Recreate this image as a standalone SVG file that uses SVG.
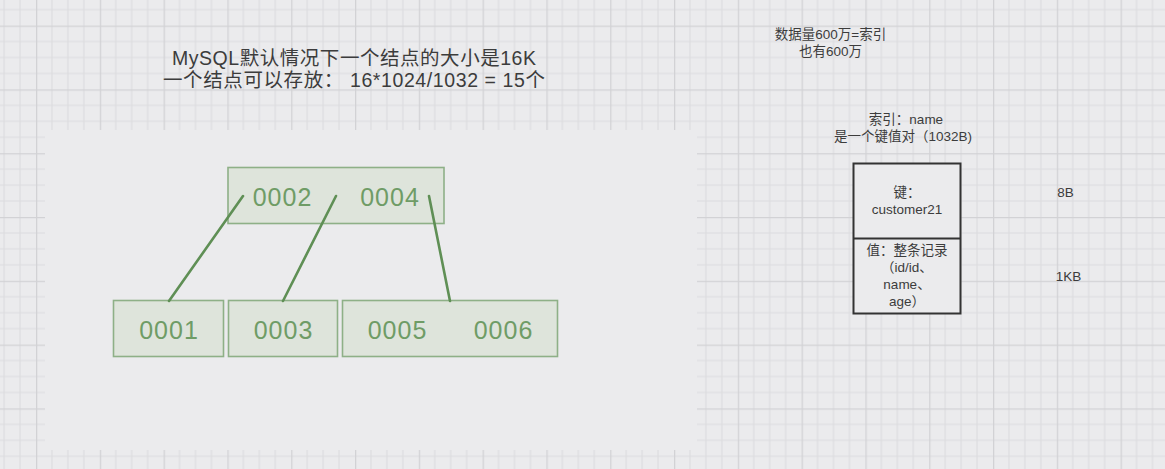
<svg xmlns="http://www.w3.org/2000/svg" width="1165" height="469" viewBox="0 0 1165 469">
<defs>
<pattern id="grid" patternUnits="userSpaceOnUse" x="36" y="25.6" width="63.8" height="63.8">
<path d="M15.95 0V63.8M31.9 0V63.8M47.85 0V63.8M0 15.95H63.8M0 31.9H63.8M0 47.85H63.8" stroke="#dcdcdf" stroke-width="1.2" fill="none"/>
<path d="M0.5 0V63.8M0 0.5H63.8" stroke="#d2d2d5" stroke-width="1.6" fill="none"/>
</pattern>
<style>
.t{font-family:"Liberation Sans","Noto Sans CJK SC",sans-serif;fill:#3c3c3c;text-anchor:middle}
.title{font-size:19.5px}
.s{font-size:13.5px}
.node rect{fill:#dee4db;stroke:#8eb087;stroke-width:1.6}
.node text{font-family:"Liberation Sans",sans-serif;font-size:25px;fill:#6f9c66;text-anchor:middle;letter-spacing:1px}
.edge{stroke:#5f8f55;stroke-width:2.6;stroke-linecap:round}
.box{fill:#ebebed;stroke:#333;stroke-width:2}
</style>
</defs>
<rect width="1165" height="469" fill="#ebebed"/>
<rect width="1165" height="469" fill="url(#grid)"/>
<rect x="45" y="130" width="652" height="320" fill="#ebebed"/>

<g id="title">
<text class="t title" x="354" y="65" textLength="364">MySQL默认情况下一个结点的大小是16K</text>
<text class="t title" x="354" y="87" textLength="382">一个结点可以存放：  16*1024/1032 = 15个</text>
</g>

<g id="root" class="node">
<rect x="228" y="167.5" width="216" height="56"/>
<text x="282.5" y="206">0002</text>
<text x="390" y="206">0004</text>
</g>
<g id="leaf1" class="node">
<rect x="113.5" y="300.5" width="110" height="56"/>
<text x="169" y="339">0001</text>
</g>
<g id="leaf2" class="node">
<rect x="228.5" y="300.5" width="109" height="56"/>
<text x="283.5" y="339">0003</text>
</g>
<g id="leaf3" class="node">
<rect x="342.5" y="300.5" width="215" height="56"/>
<text x="397.5" y="339">0005</text>
<text x="503.5" y="339">0006</text>
</g>

<g id="connectors">
<line class="edge" x1="243" y1="196" x2="169" y2="301"/>
<line class="edge" x1="336" y1="196" x2="283" y2="301"/>
<line class="edge" x1="429" y1="196" x2="450" y2="301"/>
</g>

<g id="note1">
<text class="t s" x="830.5" y="38.5">数据量600万=索引</text>
<text class="t s" x="830.5" y="56">也有600万</text>
</g>
<g id="note2">
<text class="t s" x="906" y="124">索引：name</text>
<text class="t s" x="903" y="141">是一个键值对（1032B)</text>
</g>
<g id="kvbox">
<rect class="box" x="853.5" y="163.5" width="107" height="150"/>
<line x1="853.5" y1="238.5" x2="960.5" y2="238.5" stroke="#333" stroke-width="2"/>
<text class="t s" x="907" y="197">键：</text>
<text class="t s" x="907" y="214">customer21</text>
<text class="t s" x="907" y="254.5">值：整条记录</text>
<text class="t s" x="907" y="271.5">（id/id、</text>
<text class="t s" x="907" y="288.5">name、</text>
<text class="t s" x="907" y="305.5">age）</text>
</g>
<g id="sizes">
<text class="t s" x="1065.5" y="197">8B</text>
<text class="t s" x="1068.5" y="281">1KB</text>
</g>
</svg>
